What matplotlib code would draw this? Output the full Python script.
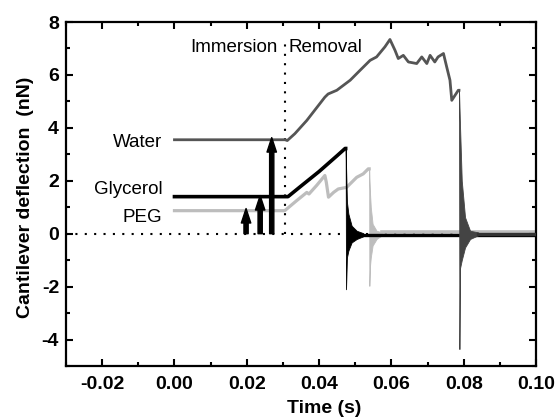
import matplotlib
matplotlib.use('Agg')
import matplotlib.pyplot as plt
from matplotlib.ticker import MultipleLocator, FormatStrFormatter

plt.rcParams['font.family'] = ['Liberation Sans', 'DejaVu Sans']
plt.rcParams['font.weight'] = 'bold'
plt.rcParams['axes.unicode_minus'] = False

# ---------------- data ----------------
# Water trace (dark gray)
water_t = [0.0, 0.0306, 0.0312, 0.0333, 0.0366, 0.0416, 0.0425, 0.0449, 0.0486,
           0.0513, 0.0541, 0.0559, 0.0582, 0.0596, 0.0610, 0.0619, 0.0633, 0.0647,
           0.0670, 0.0684, 0.0698, 0.0707, 0.0720, 0.0729, 0.0744, 0.0753, 0.0762,
           0.0767, 0.0776, 0.0785, 0.0787]
water_y = [3.55, 3.55, 3.52, 3.78, 4.28, 5.16, 5.28, 5.42, 5.80,
           6.17, 6.55, 6.68, 7.06, 7.34, 6.93, 6.62, 6.74, 6.49,
           6.43, 6.68, 6.43, 6.74, 6.49, 6.68, 6.81, 6.30, 5.80,
           5.04, 5.23, 5.42, 5.42]
water_ring_t = [0.0787, 0.07881, 0.07899, 0.07946, 0.08037, 0.08176, 0.0840]
water_ring_hi = [5.42, 4.90, 4.03, 2.00, 0.62, 0.11, 0.05]
water_ring_lo = [5.42, -4.36, -1.30, -1.00, -0.52, -0.20, -0.06]
water_base_t = [0.0840, 0.1000]
water_base_y = [0.0, 0.0]

# Glycerol trace (black)
gly_t = [0.0, 0.0314, 0.0350, 0.0400, 0.0450, 0.0472, 0.04735]
gly_y = [1.40, 1.40, 1.80, 2.35, 2.95, 3.22, 3.22]
gly_ring_t = [0.04735, 0.04745, 0.0477, 0.0481, 0.0490, 0.0504, 0.0522]
gly_ring_hi = [3.22, 2.60, 1.20, 0.75, 0.30, 0.11, 0.02]
gly_ring_lo = [3.22, -2.10, -0.90, -0.64, -0.33, -0.20, -0.10]
gly_base_t = [0.0522, 0.1000]
gly_base_y = [-0.05, -0.05]

# PEG trace (light gray)
peg_t = [0.0, 0.0305, 0.0338, 0.0366, 0.0372, 0.0393, 0.0416, 0.0420, 0.0426,
         0.0440, 0.0453, 0.0476, 0.0504, 0.0522, 0.0536, 0.05385]
peg_y = [0.87, 0.87, 1.25, 1.56, 1.50, 1.82, 2.20, 1.94, 1.38,
         1.56, 1.69, 1.75, 2.13, 2.26, 2.45, 2.45]
peg_ring_t = [0.05385, 0.0539, 0.0541, 0.0543, 0.0548, 0.0559, 0.0575]
peg_ring_hi = [2.45, 2.10, 1.50, 1.00, 0.37, 0.11, 0.05]
peg_ring_lo = [2.45, -1.97, -1.20, -0.90, -0.45, -0.20, -0.05]
peg_base_t = [0.0575, 0.1000]
peg_base_y = [0.05, 0.05]

# arrows (x position, top value)
arrow_x = [0.0198, 0.0237, 0.0269]
arrow_top = [0.95, 1.44, 3.63]

immersion_x = 0.0306

trace_labels = ['Water', 'Glycerol', 'PEG']
label_y = [3.27, 1.50, 0.43]

# ---------------- figure ----------------
fig = plt.figure(figsize=(5.58, 4.2), dpi=100)
ax = fig.add_axes([0.1183, 0.1286, 0.8423, 0.8190])

dotted = (0, (1, 3.5))
ax.axhline(0, color='black', lw=1.5, linestyle=dotted, zorder=0.5)
ax.plot([immersion_x, immersion_x], [0, 7.3], color='black', lw=1.5,
        linestyle=dotted, zorder=0.5)

c_peg = '#bdbdbd'
c_gly = '#000000'
c_wat = '#555555'

# PEG
ax.plot(peg_t, peg_y, color=c_peg, lw=2.3, zorder=1)
ax.fill_between(peg_ring_t, peg_ring_lo, peg_ring_hi, color=c_peg, lw=0.6,
                edgecolor=c_peg, zorder=1)
ax.plot(peg_base_t, peg_base_y, color=c_peg, lw=2.6, zorder=1)

# Glycerol
ax.plot(gly_t, gly_y, color=c_gly, lw=2.6, zorder=2)
ax.fill_between(gly_ring_t, gly_ring_lo, gly_ring_hi, color=c_gly, lw=0.6,
                edgecolor=c_gly, zorder=2)
ax.plot(gly_base_t, gly_base_y, color=c_gly, lw=2.4, zorder=2)

# Water
ax.plot(water_t, water_y, color=c_wat, lw=2.0, zorder=3)
ax.fill_between(water_ring_t, water_ring_lo, water_ring_hi, color='#444444',
                lw=0.6, edgecolor='#444444', zorder=3)
ax.plot(water_base_t, water_base_y, color='#333333', lw=2.4, zorder=3)

# arrows
for xa, ya in zip(arrow_x, arrow_top):
    ax.annotate('', xy=(xa, ya), xytext=(xa, 0),
                arrowprops=dict(arrowstyle='simple,head_length=1.3,head_width=0.85,tail_width=0.38',
                                color='black', mutation_scale=8,
                                shrinkA=0, shrinkB=0), zorder=4)

# text labels
for lab, yl in zip(trace_labels, label_y):
    ax.text(-0.0033, yl, lab, ha='right', va='baseline', fontsize=13.5,
            fontweight='normal')
ax.text(0.0284, 6.87, 'Immersion', ha='right', va='baseline', fontsize=13.5,
        fontweight='normal')
ax.text(0.0315, 6.87, 'Removal', ha='left', va='baseline', fontsize=13.5,
        fontweight='normal')

# axes formatting
ax.set_xlim(-0.03, 0.10)
ax.set_ylim(-5, 8)
ax.xaxis.set_major_locator(MultipleLocator(0.02))
ax.xaxis.set_minor_locator(MultipleLocator(0.01))
ax.xaxis.set_major_formatter(FormatStrFormatter('%.2f'))
ax.yaxis.set_major_locator(MultipleLocator(2))
ax.yaxis.set_minor_locator(MultipleLocator(1))
ax.tick_params(which='both', direction='in', top=True, right=True, width=1.5,
               labelsize=14)
ax.tick_params(which='major', length=5)
ax.tick_params(which='minor', length=3)
ax.tick_params(axis='x', pad=7)
ax.tick_params(axis='y', pad=5)
for sp in ax.spines.values():
    sp.set_linewidth(1.6)

ax.set_xlabel('Time (s)', fontsize=14, fontweight='bold')
ax.set_ylabel('Cantilever deflection  (nN)', fontsize=14, fontweight='bold')
ax.xaxis.set_label_coords(0.549, -0.099)
ax.yaxis.set_label_coords(-0.068, 0.49)

fig.savefig('out.png', dpi=100)
